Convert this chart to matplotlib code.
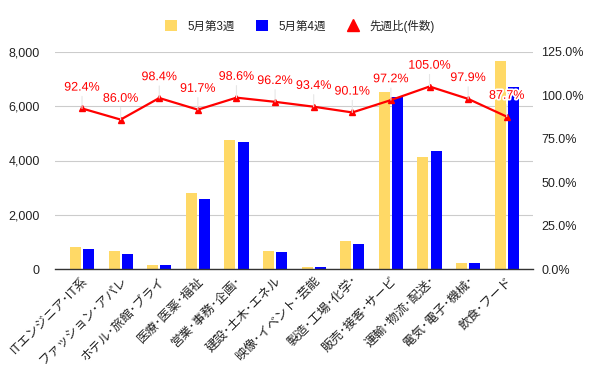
import matplotlib
matplotlib.use("Agg")
import matplotlib.pyplot as plt
import matplotlib.patheffects as pe
from matplotlib.lines import Line2D
from matplotlib.patches import Patch
import numpy as np

plt.rcParams['font.family'] = ['Liberation Sans', 'Noto Sans CJK JP', 'DejaVu Sans']

categories = ["ITエンジニア･IT系", "ファッション･アパレ", "ホテル･旅館･ブライ", "医療･医薬･福祉",
              "営業･事務･企画･", "建設･土木･エネル", "映像･イベント･芸能", "製造･工場･化学･",
              "販売･接客･サービ", "運輸･物流･配送･", "電気･電子･機械･", "飲食･フード"]
week3 = [815, 672, 165, 2810, 4755, 670, 92, 1040, 6525, 4135, 232, 7660]
week4 = [758, 580, 162, 2585, 4690, 645, 86, 937, 6345, 4350, 227, 6710]
ratio = [92.4, 86.0, 98.4, 91.7, 98.6, 96.2, 93.4, 90.1, 97.2, 105.0, 97.9, 87.7]
series_names = ["5月第3週", "5月第4週", "先週比(件数)"]
left_ticks = [0, 2000, 4000, 6000, 8000]
right_ticks = [0, 25, 50, 75, 100, 125]

c_yellow = "#ffd966"
c_blue = "#0000ff"
c_red = "#ff0000"

fig = plt.figure(figsize=(6, 3.71), dpi=100)
ax = fig.add_axes([55/600, (371-269.3)/371, (533-55)/600, (269.3-51.7)/371])
x = np.arange(len(categories))
w = 0.285
off = 0.17
ax.bar(x - off, week3, width=w, color=c_yellow, zorder=2)
ax.bar(x + off, week4, width=w, color=c_blue, zorder=2)
ax.set_xlim(-0.70, 11.68)
ax.set_ylim(0, 8000)
ax.set_yticks(left_ticks)
ax.set_yticklabels([f"{v:,}" for v in left_ticks])
ax.grid(axis='y', color='#cccccc', lw=0.8, zorder=0)
ax.set_axisbelow(True)
for s in ['top', 'right', 'left']:
    ax.spines[s].set_visible(False)
ax.spines['bottom'].set_color('#333333')
ax.spines['bottom'].set_linewidth(1.0)
ax.spines['bottom'].set_zorder(3)
ax.tick_params(axis='y', length=0, pad=11, labelsize=9, labelcolor='#222222')
ax.tick_params(axis='x', length=0, pad=4)
ax.set_xticks(x)
ax.set_xticklabels(categories, rotation=45, ha='right', rotation_mode='anchor',
                   fontsize=9, color='#222222')

ax2 = ax.twinx()
ax2.set_ylim(0, 125)
ax2.set_yticks(right_ticks)
ax2.set_yticklabels([f"{v:.1f}%" for v in right_ticks])
for s in ax2.spines.values():
    s.set_visible(False)
ax2.tick_params(axis='y', length=0, pad=6, labelsize=9, labelcolor='#222222')
ax2.plot(x, ratio, color=c_red, lw=1.6, marker='^', markersize=4.5, zorder=4)
for xi, r in zip(x, ratio):
    ax2.annotate(f"{r:.1f}%", xy=(xi, r), xytext=(0, 15), textcoords='offset points',
                 ha='center', va='center', color=c_red, fontsize=9, zorder=5,
                 path_effects=[pe.withStroke(linewidth=2.5, foreground='white')],
                 arrowprops=dict(arrowstyle='-', color='#e6e6e6', lw=0.8,
                                 shrinkA=0, shrinkB=0))

handles = [Patch(facecolor=c_yellow, edgecolor='none'),
           Patch(facecolor=c_blue, edgecolor='none'),
           Line2D([], [], color='none', marker='^', markerfacecolor=c_red,
                  markeredgecolor=c_red, markersize=8)]
fig.legend(handles, series_names, loc='center', bbox_to_anchor=(0.5, 1 - 26/371),
           ncol=3, frameon=False, fontsize=8.3, handlelength=1.0, handleheight=1.0,
           columnspacing=1.9, handletextpad=0.9, labelcolor='#222222')

fig.savefig("out.png", dpi=100)
